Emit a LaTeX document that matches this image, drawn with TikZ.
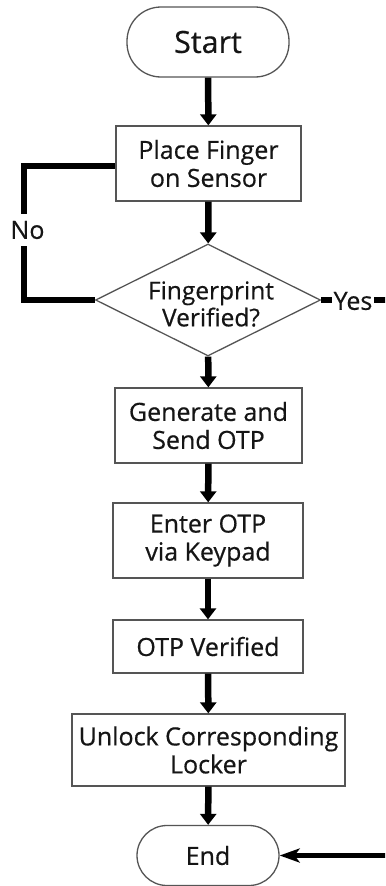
\documentclass[tikz,border=0pt]{standalone}
\usepackage{fontspec}
\setmainfont{Open Sans}[FakeBold=0.5]
\usetikzlibrary{shapes.geometric,arrows.meta}

\definecolor{edgegray}{HTML}{555555}
\definecolor{inkblack}{HTML}{151515}

\begin{document}
\begin{tikzpicture}[x=1bp,y=-1bp,
  boxfont/.style={font=\fontsize{25bp}{28bp}\selectfont},
  stepbox/.style={draw=edgegray, line width=1.3bp, inner sep=0pt, align=center,
                  text=inkblack, boxfont},
  terminal/.style={stepbox, rounded corners=#1},
  decision/.style={diamond, draw=edgegray, line width=1.3bp, inner sep=0pt,
                   minimum width=225bp, minimum height=112bp},
  flowarrow/.style={line width=6.5bp, draw=black,
                    -{Triangle[length=11bp,width=16bp]}},
  branchline/.style={line width=5.5bp, draw=black},
  tag/.style={fill=white, text=inkblack, boxfont, inner xsep=1.5bp, inner ysep=7bp}
]
  \useasboundingbox (0,0) rectangle (385,886);
  \fill[white] (0,0) rectangle (385,886);
  \clip (0,0) rectangle (385,886);

  % process steps
  \node[terminal=34bp, minimum width=162bp, minimum height=70bp,
        font=\fontsize{30.5bp}{34bp}\selectfont] (start) at (208,42) {Start};
  \node[stepbox, minimum width=185bp, minimum height=75bp] (place) at (208.5,163.5)
        {Place Finger\\on Sensor};
  \node[decision] (dia) at (208,300) {};
  \node[text=inkblack, align=center, inner sep=0pt,
        font=\fontsize{24.5bp}{27bp}\selectfont] (diatext) at (211,304)
        {Fingerprint\\Verified?};
  \node[stepbox, minimum width=187bp, minimum height=75bp] (gen) at (208.5,425.5)
        {Generate and\\Send OTP};
  \node[stepbox, minimum width=190bp, minimum height=75bp] (enter) at (208,540.5)
        {Enter OTP\\via Keypad};
  \node[stepbox, minimum width=190bp, minimum height=53bp] (otpok) at (208,646.5)
        {OTP Verified};
  \node[stepbox, minimum width=273bp, minimum height=72bp] (unlock) at (208.5,750)
        {Unlock Corresponding\\Locker};
  \node[terminal=30bp, minimum width=142bp, minimum height=60bp] (end) at (208,855.5)
        {End};

  % main sequence
  \draw[flowarrow] (start) -- (place);
  \draw[flowarrow] (place) -- (dia);
  \draw[flowarrow] (dia) -- (gen);
  \draw[flowarrow] (gen) -- (enter);
  \draw[flowarrow] (enter) -- (otpok);
  \draw[flowarrow] (otpok) -- (unlock);
  \draw[flowarrow] (unlock) -- (end);

  % "No" branch back to the sensor step
  \coordinate (nocorner) at (24,300);
  \draw[branchline] (dia.west) -- (nocorner) -- (nocorner |- 0,166) -- (place.west |- 0,166);
  \node[tag] (nolabel) at (27.5,230) {No};

  % "Yes" branch along the right edge to the end
  \coordinate (yescorner) at (398,300);
  \draw[branchline, -{Stealth[length=20bp,width=14bp,inset=5bp]}]
        (dia.east) -- (yescorner) |- (end.east);
  \node[tag, inner xsep=2bp] (yeslabel) at (353,301) {Yes};
\end{tikzpicture}
\end{document}
